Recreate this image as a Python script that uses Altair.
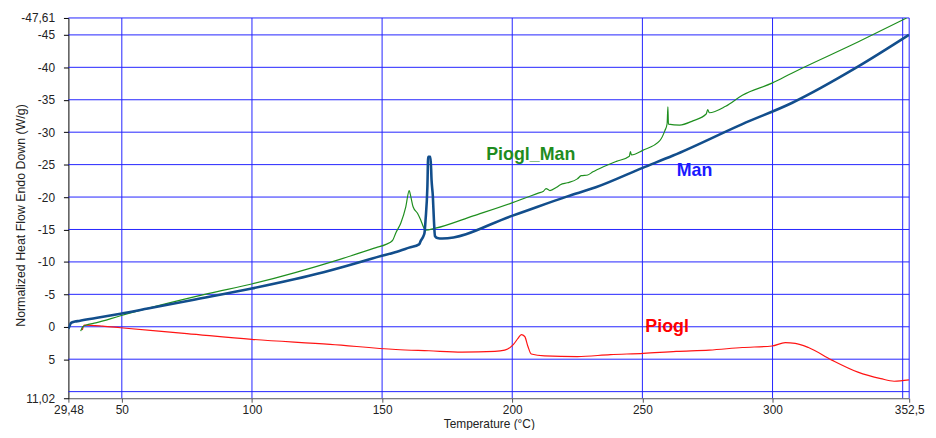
import altair as alt
import pandas as pd

# ---- data ----
man_t = [29.48, 30.0, 30.5, 32.0, 33.6, 40.0, 49.5, 60.0, 76.7, 99.9, 127.5, 145.2, 147.7, 155.0, 160.4, 164.2,
         164.8, 165.9, 166.3, 166.7, 167.4, 167.7, 168.6, 169.0, 169.5, 169.9, 170.3, 171.2, 173.1, 199.9, 221.2,
         232.1, 250.1, 261.8, 288.4, 307.4, 332.8, 352.4]
man_y = [0.3, -0.2, -0.6, -0.8, -0.9, -1.35, -2.0, -2.8, -4.1, -5.9, -8.4, -10.4, -10.7, -11.5, -12.2, -12.7,
         -13.2, -14.0, -14.5, -16.5, -21.6, -26.2, -26.2, -22.6, -20.1, -16.5, -14.0, -13.7, -13.6, -17.1, -20.1,
         -21.5, -24.5, -26.4, -31.25, -34.5, -40.1, -45.0]

green_t = [34.2, 35.0, 36.1, 40.0, 49.5, 83.1, 99.9, 133.8, 147.7, 151.5, 154.0, 155.3, 157.2, 159.1, 160.4, 161.0,
           161.9, 163.6, 164.8, 166.1, 166.7, 170.5, 185.0, 199.9, 210.0, 212.0, 213.0, 214.5, 217.0, 218.5, 221.2,
           225.0, 226.5, 229.0, 231.0, 232.5, 236.4, 240.0, 245.0, 245.4, 245.8, 250.1, 256.7, 258.6, 259.5, 259.8,
           260.0, 264.3, 269.4, 274.5, 275.1, 275.7, 282.0, 288.4, 300.0, 307.4, 332.8, 351.5]
green_y = [0.67, 0.0, -0.24, -0.6, -1.7, -5.1, -6.6, -10.4, -12.2, -12.7, -13.3, -14.5, -16.0, -18.5, -21.0, -20.1,
           -18.5, -17.5, -16.5, -15.2, -14.9, -15.2, -17.1, -19.1, -20.6, -20.9, -21.3, -21.0, -21.5, -21.9, -22.2,
           -22.8, -23.3, -23.4, -23.9, -24.2, -24.9, -25.5, -26.3, -27.0, -26.5, -27.2, -28.7, -30.2, -31.3, -33.9,
           -31.25, -31.1, -31.75, -32.8, -33.5, -33.0, -34.0, -35.7, -37.6, -39.1, -43.9, -47.6]

red_t = [34.8, 35.6, 42.6, 49.5, 75.0, 99.9, 130.0, 155.3, 168.0, 180.7, 193.3, 197.1, 200.3, 202.2, 203.5, 204.8,
         206.0, 207.3, 212.4, 225.0, 237.7, 250.4, 263.0, 275.7, 288.4, 299.8, 304.9, 308.7, 313.8, 322.6, 332.8,
         341.6, 346.7, 352.4]
red_y = [0.5, -0.25, -0.1, 0.15, 1.05, 1.94, 2.7, 3.5, 3.7, 3.9, 3.8, 3.6, 2.8, 1.8, 1.2, 1.5,
         3.0, 4.2, 4.5, 4.6, 4.3, 4.1, 3.8, 3.6, 3.2, 2.96, 2.45, 2.55, 3.2, 5.1, 7.0,
         8.0, 8.4, 8.2]

label_text = ["Piogl_Man", "Man", "Piogl"]
label_t = [207.1, 270.0, 259.5]
label_y = [-26.4, -24.0, 0.0]
label_color = ["#1e8c1e", "#1a1aff", "#ff0000"]

x_ticks = [29.48, 50, 100, 150, 200, 250, 300, 352.5]
y_ticks = [-47.61, -45, -40, -35, -30, -25, -20, -15, -10, -5, 0, 5, 11.02]
x_grid = [50, 100, 150, 200, 250, 300, 350, 352.5]
y_grid = [-47.61, -45, -40, -35, -30, -25, -20, -15, -10, -5, 0, 5, 10]

X_MIN, X_MAX = 29.48, 352.5
Y_MIN, Y_MAX = -47.61, 11.02

xs = alt.Scale(domain=[X_MIN, X_MAX], nice=False, zero=False)
ys = alt.Scale(domain=[Y_MIN, Y_MAX], nice=False, zero=False, reverse=True)

comma = "replace(toString(datum.value), '.', ',')"

x_axis = alt.Axis(
    values=x_ticks, labelExpr=comma, title="Temperature (°C)", grid=False,
    tickSize=4, labelPadding=2, labelFontSize=12, labelColor="#222222",
    domainColor="#555555", tickColor="#555555", titleFontSize=12, titleFontWeight="normal",
    titlePadding=4, titleColor="#222222", labelFlush=False, labelOverlap=False,
)
y_axis = alt.Axis(
    values=y_ticks, labelExpr=comma, title="Normalized Heat Flow Endo Down (W/g)", grid=False,
    tickSize=5, labelPadding=9, labelFontSize=12, labelColor="#222222",
    domainColor="#000000", tickColor="#000000", titleFontSize=12.5, titleFontWeight="normal",
    titleColor="#222222", titleX=-48, titleY=199, titleBaseline="middle", titleAngle=270,
    labelFlush=False, labelOverlap=False,
)

grid_color = "#2222ff"

vgrid = alt.Chart(pd.DataFrame({"v": x_grid})).mark_rule(color=grid_color, strokeWidth=1).encode(
    x=alt.X("v:Q", scale=xs, axis=x_axis)
)
hgrid = alt.Chart(pd.DataFrame({"h": y_grid})).mark_rule(color=grid_color, strokeWidth=1).encode(
    y=alt.Y("h:Q", scale=ys, axis=y_axis)
)


def series(ts, vals, color, width):
    return alt.Chart(pd.DataFrame({"t": ts, "y": vals})).mark_line(
        color=color, strokeWidth=width, clip=True, interpolate="monotone"
    ).encode(
        x=alt.X("t:Q", scale=xs, axis=x_axis),
        y=alt.Y("y:Q", scale=ys, axis=y_axis),
        order="t:Q",
    )


red = series(red_t, red_y, "#ff1414", 1.2)
green = series(green_t, green_y, "#1f8f1f", 1.2)
man = series(man_t, man_y, "#124e8c", 2.6)

labels = alt.Chart(pd.DataFrame({"txt": label_text, "t": label_t, "y": label_y, "c": label_color})).mark_text(
    fontSize=18, fontWeight="bold", font="Liberation Sans"
).encode(
    x=alt.X("t:Q", scale=xs, axis=x_axis),
    y=alt.Y("y:Q", scale=ys, axis=y_axis),
    text="txt:N",
    color=alt.Color("c:N", scale=None),
)

chart = alt.layer(vgrid, hgrid, red, green, man, labels).properties(
    width=849,
    height=384,
    autosize=alt.AutoSizeParams(type="none"),
    padding={"left": 61, "top": 8, "right": 19, "bottom": 30},
    background="white",
).configure_view(stroke=None).configure_axis(
    labelFont="Liberation Sans", titleFont="Liberation Sans"
)

chart.save("out.html", embed_options={"renderer": "svg", "actions": False})
